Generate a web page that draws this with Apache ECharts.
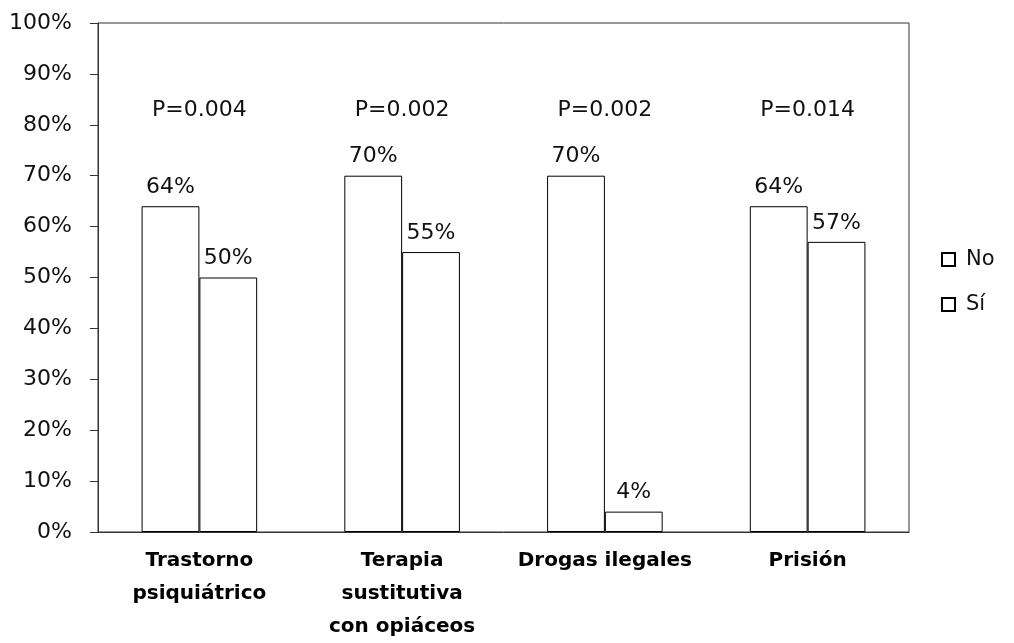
<!DOCTYPE html>
<html>
<head>
<meta charset="utf-8">
<script src="https://cdn.jsdelivr.net/npm/echarts@6/dist/echarts.min.js"></script>
<style>html,body{margin:0;padding:0;background:#fff}#c{width:1014px;height:643px}</style>
</head>
<body>
<div id="c"></div>
<script>
const categories = ['Trastorno\npsiquiátrico', 'Terapia\nsustitutiva\ncon opiáceos', 'Drogas ilegales', 'Prisión'];
const seriesNames = ['No', 'Sí'];
const valuesNo = [64, 70, 70, 64];
const valuesSi = [50, 55, 4, 57];
const pValues = ['P=0.004', 'P=0.002', 'P=0.002', 'P=0.014'];
const yTicks = [0, 10, 20, 30, 40, 50, 60, 70, 80, 90, 100];

const FONT = '"DejaVu Sans", sans-serif';
const chart = echarts.init(document.getElementById('c'));
const barStyle = { color: '#ffffff', borderColor: '#000000', borderWidth: 1 };
const labelStyle = { show: true, position: 'top', distance: 8, color: '#111', fontSize: 22, fontFamily: FONT, formatter: p => p.value + '%' };

chart.setOption({
  animation: false,
  backgroundColor: '#ffffff',
  grid: { left: 98, right: 105, top: 23, bottom: 109, show: true, borderColor: '#333', borderWidth: 1 },
  legend: {
    orient: 'vertical', left: 941, top: 249, padding: 0, itemWidth: 13, itemHeight: 13, itemGap: 24,
    icon: 'rect',
    data: seriesNames,
    textStyle: { fontSize: 21, fontFamily: FONT, color: '#111', padding: [0, 0, 0, 6] }
  },
  xAxis: {
    type: 'category', data: categories,
    axisLine: { lineStyle: { color: '#333', width: 1 } },
    axisTick: { show: false },
    axisLabel: { interval: 0, margin: 12, fontSize: 20, fontWeight: 'bold', fontFamily: FONT, color: '#000', lineHeight: 33 }
  },
  yAxis: {
    type: 'value', min: 0, max: 100, interval: 10,
    axisLine: { show: true, lineStyle: { color: '#333', width: 1 } },
    axisTick: { show: true, length: 8, lineStyle: { color: '#333' } },
    splitLine: { show: false },
    axisLabel: { margin: 26, fontSize: 22, fontFamily: FONT, color: '#111', formatter: v => (yTicks.indexOf(v) >= 0 ? v + '%' : '') }
  },
  series: [
    { name: seriesNames[0], type: 'bar', data: valuesNo, barGap: '0%', barCategoryGap: '43%', itemStyle: barStyle, label: labelStyle },
    { name: seriesNames[1], type: 'bar', data: valuesSi, itemStyle: barStyle, label: labelStyle }
  ]
});

const pY = chart.convertToPixel({ yAxisIndex: 0 }, 82.8);
chart.setOption({
  graphic: pValues.map((t, i) => ({
    type: 'text',
    x: chart.convertToPixel({ xAxisIndex: 0 }, i),
    y: pY,
    style: { text: t, fontSize: 22, fontFamily: FONT, fill: '#111', align: 'center', verticalAlign: 'middle' }
  }))
});
</script>
</body>
</html>
